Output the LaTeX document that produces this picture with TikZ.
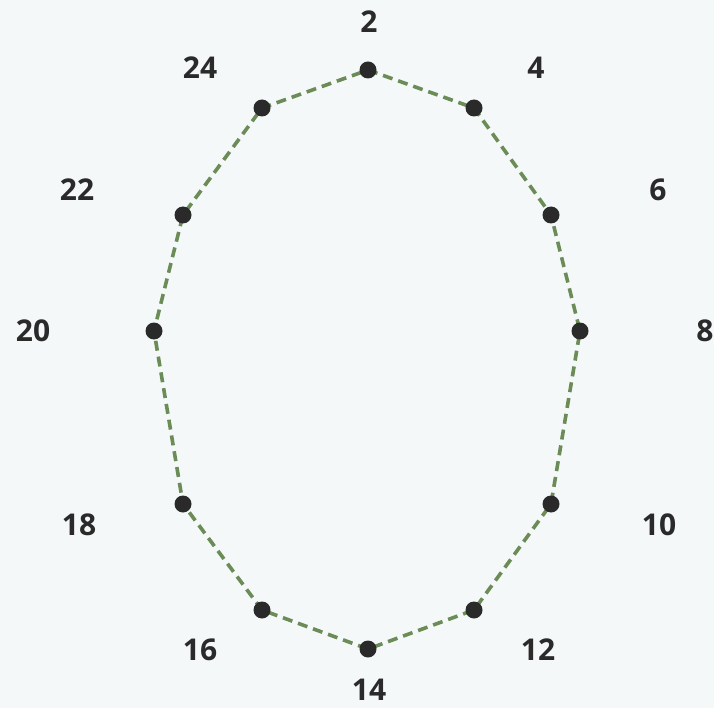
\documentclass[tikz,border=0pt]{standalone}
\usepackage{fontspec}
\setmainfont{Open Sans}
\definecolor{bg}{HTML}{F5F8F9}
\definecolor{ln}{HTML}{6B8B57}
\definecolor{dot}{HTML}{2A2A2A}
\begin{document}
\begin{tikzpicture}[x=1pt,y=-1pt,
  pt/.style={circle,fill=dot,inner sep=0pt,minimum size=17pt},
  lbl/.style={font=\fontsize{30}{33}\selectfont\bfseries,text=dot,inner sep=0pt},
  edge/.style={draw=ln,line width=3.6pt,dash pattern=on 10pt off 6pt}]
\fill[bg] (0,0) rectangle (714,708);
\useasboundingbox (0,0) rectangle (714,708);
\coordinate (p2) at (368,70);
\coordinate (p4) at (474,108);
\coordinate (p6) at (551,215);
\coordinate (p8) at (580,331);
\coordinate (p10) at (551,504);
\coordinate (p12) at (474,610);
\coordinate (p14) at (368,649);
\coordinate (p16) at (262,610);
\coordinate (p18) at (183,504);
\coordinate (p20) at (154,331);
\coordinate (p22) at (183,215);
\coordinate (p24) at (262,108);
\draw[edge] (p2) -- (p4) -- (p6) -- (p8) -- (p10) -- (p12) -- (p14) -- (p16) -- (p18) -- (p20) -- (p22) -- (p24) -- cycle;
\foreach \n in {2,4,...,24} {\node[pt] (d\n) at (p\n) {};}
\node[lbl] (l2) at (369,22) {2};
\node[lbl] (l4) at (536,68) {4};
\node[lbl] (l6) at (658,190) {6};
\node[lbl] (l8) at (705,331) {8};
\node[lbl] (l10) at (659,525) {10};
\node[lbl] (l12) at (538,650) {12};
\node[lbl] (l14) at (369,690) {14};
\node[lbl] (l16) at (200,650) {16};
\node[lbl] (l18) at (79,525) {18};
\node[lbl] (l20) at (33,331) {20};
\node[lbl] (l22) at (77,190) {22};
\node[lbl] (l24) at (200,68) {24};
\end{tikzpicture}
\end{document}
